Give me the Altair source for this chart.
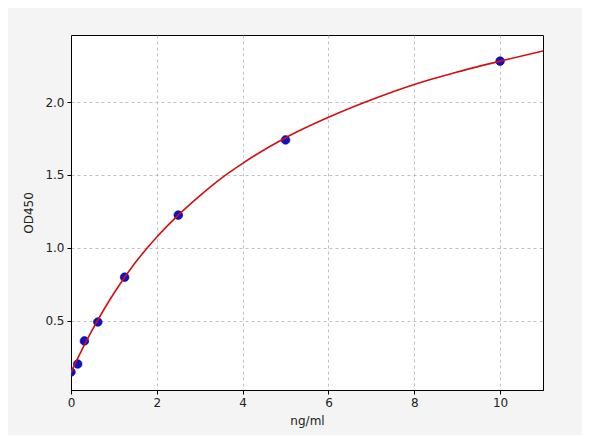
import altair as alt
import pandas as pd

# measured standards
conc = [0, 0.156, 0.3125, 0.625, 1.25, 2.5, 5, 10]
od = [0.15, 0.205, 0.363, 0.493, 0.80, 1.225, 1.74, 2.28]

# fitted curve
curve_x = [0, 0.1, 0.25, 0.5, 0.75, 1, 1.5, 2, 2.5, 3, 3.5, 4, 5, 6, 7, 8, 9, 10, 11]
curve_y = [0.145, 0.21, 0.30, 0.44, 0.57, 0.69, 0.90, 1.075, 1.225, 1.357, 1.477, 1.58,
           1.755, 1.895, 2.015, 2.12, 2.205, 2.28, 2.35]

pts = pd.DataFrame({"x": conc, "y": od})
crv = pd.DataFrame({"x": curve_x, "y": curve_y})

xs = alt.Scale(domain=[0, 11], nice=False, zero=False)
ys = alt.Scale(domain=[0.027, 2.459], nice=False, zero=False)

axis_common = dict(
    grid=True, gridDash=[3, 3], gridColor="#b0b0b0", gridWidth=0.8,
    domainColor="black", tickColor="black", tickSize=4,
    labelFont="DejaVu Sans", labelFontSize=12, labelColor="#222222",
    titleFont="DejaVu Sans", titleFontSize=12, titleFontWeight="normal", titleColor="#222222",
    labelPadding=3, labelFlush=False,
)

x_enc = alt.X("x:Q", scale=xs, axis=alt.Axis(title="ng/ml", values=[0, 2, 4, 6, 8, 10], format="d", titlePadding=7, **axis_common))
y_enc = alt.Y("y:Q", scale=ys, axis=alt.Axis(title="OD450", values=[0.5, 1.0, 1.5, 2.0], format=".1f", titlePadding=9, **axis_common))

points = alt.Chart(pts).mark_circle(size=75, color="#1010cc", opacity=1, clip=True, stroke="#000080", strokeWidth=0.6).encode(x=x_enc, y=y_enc)
line = alt.Chart(crv).mark_line(color="#d01010", strokeWidth=1.6, interpolate="monotone", clip=True).encode(x="x:Q", y="y:Q")

chart = alt.layer(points, line).properties(
    width=472, height=355,
    background="#f4f4f4",
    padding={"left": 63, "top": 27, "right": 39, "bottom": 45},
    autosize=alt.AutoSizeParams(type="none"),
).configure_view(stroke="black", strokeWidth=1, fill="white")

chart.save("out.html", embed_options={"renderer": "svg", "actions": False})
